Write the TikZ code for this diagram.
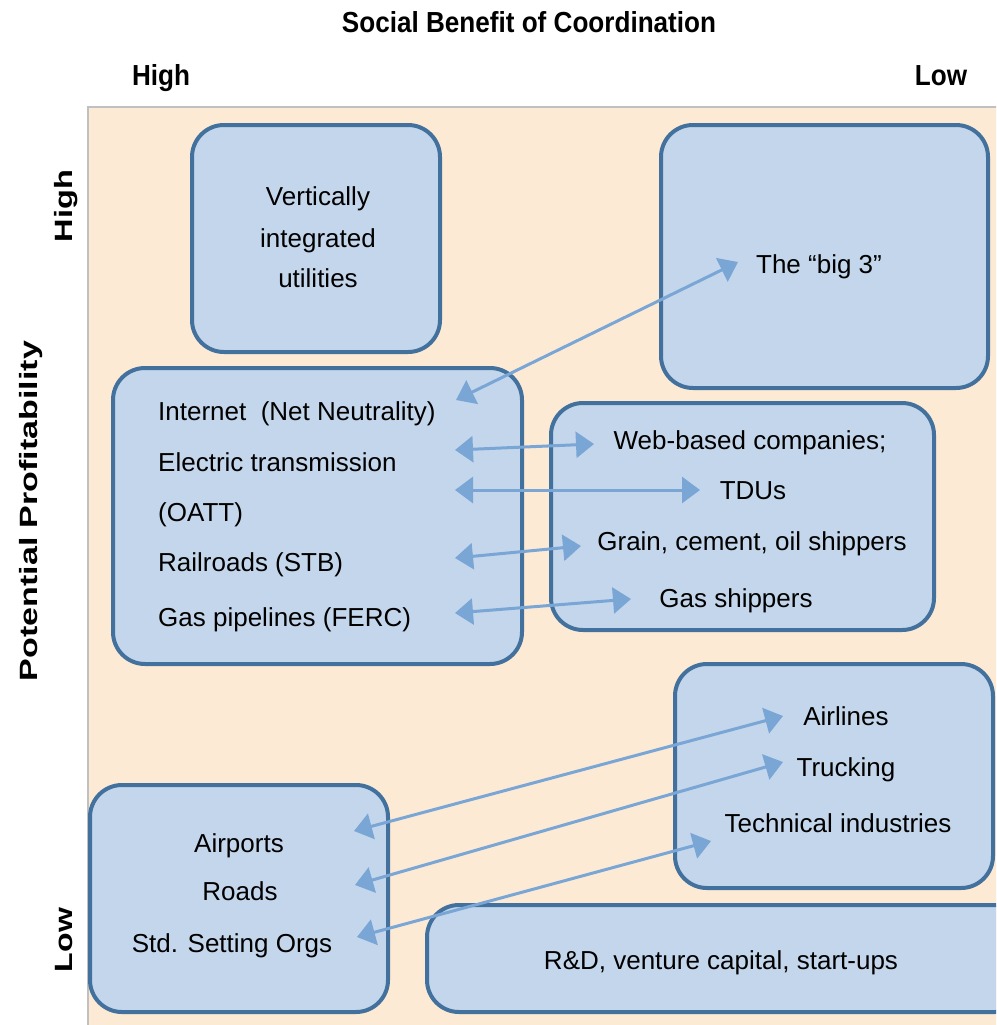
\documentclass[tikz,border=0pt]{standalone}
\usepackage{fontspec}
\usepackage{graphicx}
\setmainfont{Liberation Sans}
\usetikzlibrary{arrows.meta}
\definecolor{peach}{RGB}{253,234,212}
\definecolor{boxfill}{RGB}{196,214,235}
\definecolor{boxline}{RGB}{66,113,158}
\definecolor{linkc}{RGB}{122,166,214}
\definecolor{framec}{RGB}{192,192,192}
\tikzset{
  box/.style={draw=boxline, fill=boxfill, line width=4pt, rounded corners=32pt, inner sep=0pt},
  lbl/.style={font=\fontsize{26}{30}\selectfont, inner sep=0pt, anchor=base},
  head/.style={font=\fontsize{29}{34}\selectfont\bfseries, inner sep=0pt, anchor=base},
  vlbl/.style={font=\fontsize{25}{30}\selectfont\bfseries, inner sep=0pt, anchor=base, rotate=90},
  link/.style={draw=linkc, line width=3pt, >={Triangle[length=18pt,width=26pt]}, <->}
}
\begin{document}
\begin{tikzpicture}[x=1pt,y=-1pt]
\useasboundingbox (0,0) rectangle (996,1025);
\begin{scope}
\clip (0,0) rectangle (996,1025);

% axis titles
\node[head] (title) at (529,33) {\scalebox{0.9}[1]{Social Benefit of Coordination}};
\node[head] (xhigh) at (161,85) {\scalebox{0.9}[1]{High}};
\node[head] (xlow) at (941,85) {\scalebox{0.9}[1]{Low}};
\node[vlbl] (yhigh) at (72,206) {\scalebox{1.3}[1]{High}};
\node[vlbl] (ytitle) at (37,511) {\scalebox{1.36}[1]{Potential Profitability}};
\node[vlbl] (ylow) at (72,940) {\scalebox{1.28}[1]{Low}};

% plot area
\fill[peach] (88,107) rectangle (1000,1030);
\draw[framec, line width=2pt] (88,1030) -- (88,107) -- (1000,107);

% boxes
\node[box, minimum width=248pt, minimum height=227pt] (vi) at (316,238.5) {};
\node[box, minimum width=327pt, minimum height=263pt] (big) at (824.5,256.5) {};
\node[box, minimum width=409pt, minimum height=296pt] (net) at (317.5,516) {};
\node[box, minimum width=383pt, minimum height=227pt] (users) at (742.5,516.5) {};
\node[box, minimum width=318pt, minimum height=224pt] (air) at (834,776) {};
\node[box, minimum width=298pt, minimum height=227pt] (infra) at (239,898.5) {};
\node[box, minimum width=600pt, minimum height=107pt] (rd) at (727,958.5) {};

% box texts
\node[lbl] (t1) at (318,205) {Vertically};
\node[lbl] (t2) at (318,247) {integrated};
\node[lbl] (t3) at (318,287) {utilities};
\node[lbl] (big3) at (819,273) {The “big 3”};

\node[lbl, anchor=base west] (internet) at (158,420) {Internet\ \ (Net Neutrality)};
\node[lbl, anchor=base west] (elec) at (158,471) {Electric transmission};
\node[lbl, anchor=base west] (oatt) at (158,521) {(OATT)};
\node[lbl, anchor=base west] (rail) at (158,571) {Railroads (STB)};
\node[lbl, anchor=base west] (gasp) at (158,626) {Gas pipelines (FERC)};

\node[lbl] (web) at (750,449) {Web-based companies;};
\node[lbl] (tdu) at (753,499) {TDUs};
\node[lbl] (grain) at (752,550) {Grain, cement, oil shippers};
\node[lbl] (gass) at (736,607) {Gas shippers};

\node[lbl] (airl) at (846,725) {Airlines};
\node[lbl] (truck) at (846,776) {Trucking};
\node[lbl] (tech) at (838,832) {Technical industries};

\node[lbl] (airp) at (239,852) {Airports};
\node[lbl] (roads) at (240,900) {Roads};
\node[lbl] (sso) at (232,952) {Std. Setting Orgs};

\node[lbl] (rdt) at (721,969) {R\&D, venture capital, start-ups};

% connector ends
\coordinate (a1l) at (456,400);  \coordinate (a1r) at (738,262);
\coordinate (a2l) at (455,450);  \coordinate (a2r) at (594,444);
\coordinate (a3l) at (455,490);  \coordinate (a3r) at (700,490);
\coordinate (a4l) at (455,558);  \coordinate (a4r) at (581,546);
\coordinate (a5l) at (455,613);  \coordinate (a5r) at (631,599);
\coordinate (a6l) at (354,831);  \coordinate (a6r) at (783,716);
\coordinate (a7l) at (355,885);  \coordinate (a7r) at (783,762);
\coordinate (a8l) at (357,937);  \coordinate (a8r) at (711,841);

% connectors
\draw[link] (a1l) -- (a1r);
\draw[link] (a2l) -- (a2r);
\draw[link] (a3l) -- (a3r);
\draw[link] (a4l) -- (a4r);
\draw[link] (a5l) -- (a5r);
\draw[link] (a6l) -- (a6r);
\draw[link] (a7l) -- (a7r);
\draw[link] (a8l) -- (a8r);
\end{scope}
\end{tikzpicture}
\end{document}
